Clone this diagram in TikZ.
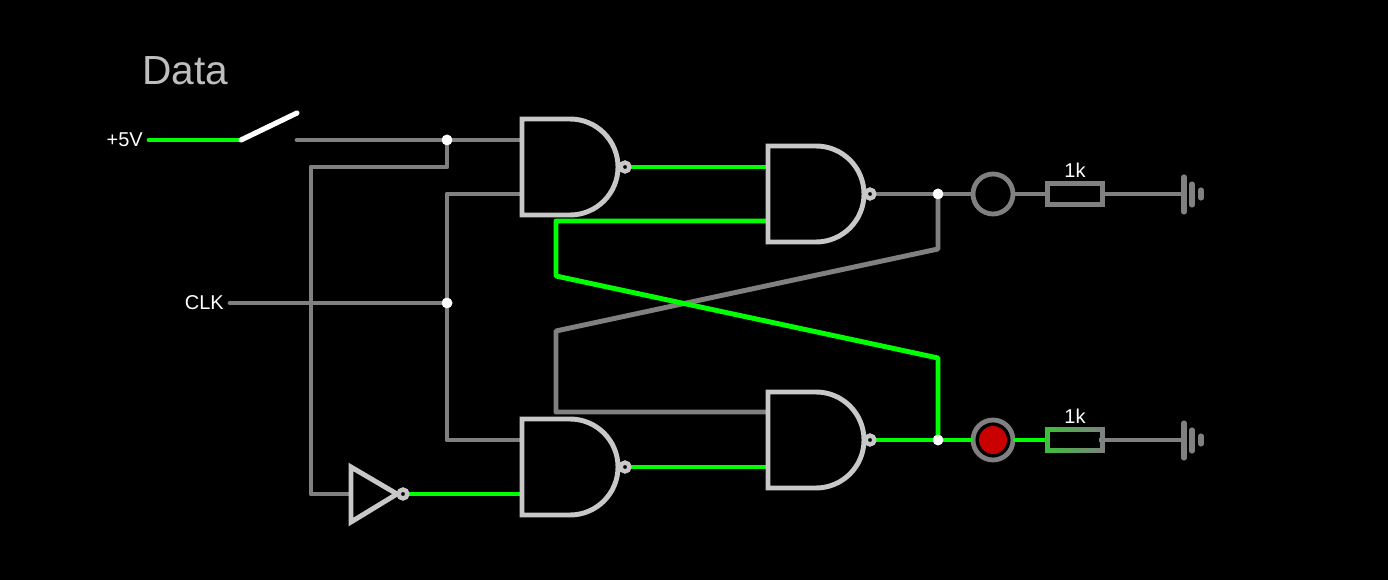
\documentclass[tikz,border=0pt]{standalone}
\usepackage{fontspec}
\setmainfont{Liberation Sans}
\definecolor{wiregrey}{RGB}{128,128,128}
\definecolor{wiregreen}{RGB}{0,255,0}
\definecolor{gategrey}{RGB}{200,200,200}
\definecolor{datagrey}{RGB}{190,190,190}
\definecolor{ledred}{RGB}{200,0,0}
\definecolor{resgreen}{RGB}{60,190,60}
\tikzset{
  wire/.style={line width=3.7pt,line join=round,line cap=round,wiregrey},
  livewire/.style={wire,wiregreen},
  gateline/.style={line width=3.7pt,line join=miter,draw=gategrey,fill=black},
  bubble/.style={circle,draw=gategrey,fill=black,line width=3.2pt,minimum size=6.5pt,inner sep=0pt},
  junction/.style={circle,fill=white,minimum size=8pt,inner sep=0pt},
  ledring/.style={circle,draw=wiregrey,fill=black,line width=3.6pt,minimum size=30pt,inner sep=0pt},
  resbox/.style={rectangle,draw=wiregrey,fill=black,line width=3.6pt,minimum width=41pt,minimum height=15.75pt,inner sep=0pt},
  label/.style={text=white,font=\fontsize{15pt}{15pt}\selectfont,inner sep=0pt},
  groundbar/.style={line width=3.8pt,line cap=round,wiregrey},
}
\begin{document}
\begin{tikzpicture}[x=0.75pt,y=0.75pt,yscale=-1,xscale=1]
    \fill [black] (0,0) rectangle (1388,580);
    \useasboundingbox (0,0) rectangle (1388,580);

    % Points
    \coordinate (source) at (149,140);
    \coordinate (pivot) at (241,140);
    \coordinate (tip) at (297,113);
    \coordinate (contact) at (297,140);
    \coordinate (clkin) at (230,303);
    \coordinate (dataup) at (447,167);
    \coordinate (datacorner) at (311,167);
    \coordinate (datadown) at (311,494);
    \coordinate (clkup) at (447,194);
    \coordinate (clkdown) at (447,440);
    \coordinate (gateAa) at (522,140);
    \coordinate (gateAb) at (522,194);
    \coordinate (gateBa) at (768,167);
    \coordinate (gateBb) at (768,221);
    \coordinate (gateCa) at (522,440);
    \coordinate (gateCb) at (522,494);
    \coordinate (gateDa) at (768,412);
    \coordinate (gateDb) at (768,467);
    \coordinate (notin) at (351,494);
    \coordinate (fbtopa) at (938,249);
    \coordinate (fbtopb) at (556,331);
    \coordinate (fbtopc) at (556,412);
    \coordinate (fbbota) at (938,358);
    \coordinate (fbbotb) at (556,276);
    \coordinate (fbbotc) at (556,221);
    \coordinate (groundtop) at (1184,194);
    \coordinate (groundbot) at (1184,440);

    % Nodes
    \node [junction] (jdata) at (447,140) {};
    \node [junction] (jclk) at (447,303) {};
    \node [junction] (jtop) at (938,194) {};
    \node [junction] (jbot) at (938,440) {};
    \node [bubble] (bubnot) at (403,494) {};
    \node [bubble] (bubA) at (625,167) {};
    \node [bubble] (bubB) at (870,194) {};
    \node [bubble] (bubC) at (625,467) {};
    \node [bubble] (bubD) at (870,440) {};
    \node [ledring] (ledtop) at (993,194) {};
    \node [ledring] (ledbot) at (993,440) {};
    \node [resbox] (restop) at (1075,194) {};
    \node [resbox] (resbot) at (1075,440) {};

    % Grey wires
    \draw [wire] (contact) -- (jdata) -- (gateAa);
    \draw [wire] (jdata) -- (dataup) -- (datacorner) -- (datadown) -- (notin);
    \draw [wire] (clkin) -- (jclk);
    \draw [wire] (gateAb) -- (clkup) -- (jclk) -- (clkdown) -- (gateCa);
    \draw [wire] (bubB) -- (jtop) -- (ledtop);
    \draw [wire] (jtop) -- (fbtopa) -- (fbtopb) -- (fbtopc) -- (gateDa);
    \draw [wire] (ledtop) -- (restop);
    \draw [wire] (restop) -- (groundtop);
    \draw [wire] (resbot) -- (groundbot);

    % Green wires
    \draw [livewire] (source) -- (pivot);
    \draw [livewire] (bubA) -- (gateBa);
    \draw [livewire] (gateBb) -- (fbbotc) -- (fbbotb) -- (fbbota) -- (jbot);
    \draw [livewire] (bubC) -- (gateDb);
    \draw [livewire] (bubD) -- (jbot) -- (ledbot);
    \draw [livewire] (ledbot) -- (resbot);
    \draw [livewire] (bubnot) -- (gateCb);

    % Switch
    \draw [line width=3.9pt,line cap=round,white] (pivot) -- (tip);

    % Gates
    \draw [gateline] (522,119) -- (570,119) arc (-90:90:48) -- (522,215) -- cycle;
    \draw [gateline] (768,146) -- (816,146) arc (-90:90:48) -- (768,242) -- cycle;
    \draw [gateline] (522,419) -- (570,419) arc (-90:90:48) -- (522,515) -- cycle;
    \draw [gateline] (768,392) -- (816,392) arc (-90:90:48) -- (768,488) -- cycle;
    \draw [gateline] (351,467) -- (397,494) -- (351,522) -- cycle;

    % Bubbles and dots on top
    \foreach \bub/\pos in {bubnot/{(403,494)},bubA/{(625,167)},bubB/{(870,194)},bubC/{(625,467)},bubD/{(870,440)}}
      \node [bubble] at \pos {};
    \foreach \dot/\pos in {jdata/{(447,140)},jclk/{(447,303)},jtop/{(938,194)},jbot/{(938,440)}}
      \node [junction] at \pos {};

    % Lamps
    \fill [ledred] (ledbot) circle (14);

    % Resistors
    \shade [left color=resgreen,middle color=resgreen,right color=wiregrey] (1045,427.5) rectangle (1104,452.5);
    \fill [black] (1050,432) rectangle (1100,448);
    \draw [wire,line cap=butt] (1099,440) -- (1106,440);

    % Ground
    \draw [groundbar] (1184,177) -- (1184,212);
    \draw [groundbar] (1192,184) -- (1192,205);
    \draw [groundbar] (1201,190) -- (1201,198);
    \draw [groundbar] (1184,423) -- (1184,458);
    \draw [groundbar] (1192,430) -- (1192,451);
    \draw [groundbar] (1201,436) -- (1201,444);

    % Text Node
    \node [anchor=base west,inner sep=0pt,text=datagrey,font=\fontsize{30.5pt}{30.5pt}\selectfont] (datalabel) at (142,85) {Data};
    \node [label,anchor=base east] (vlabel) at (143,147) {+5V};
    \node [label,anchor=base east] (clklabel) at (224,310) {CLK};
    \node [label,anchor=base] (rtoplabel) at (1075,178) {1k};
    \node [label,anchor=base] (rbotlabel) at (1075,424) {1k};
\end{tikzpicture}
\end{document}
